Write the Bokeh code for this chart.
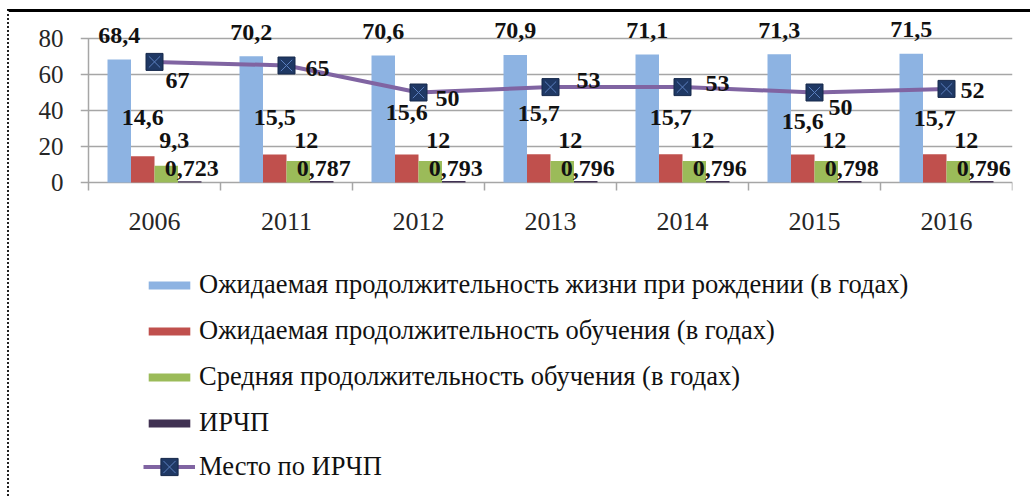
from bokeh.plotting import figure
from bokeh.layouts import column
from bokeh.models import Range1d, FixedTicker, Legend, LegendItem
from bokeh.core.properties import value
from bokeh.embed import file_html
from bokeh.resources import INLINE

# --- data -------------------------------------------------------------
years = ["2006", "2011", "2012", "2013", "2014", "2015", "2016"]
life_expectancy = [68.4, 70.2, 70.6, 70.9, 71.1, 71.3, 71.5]
expected_schooling = [14.6, 15.5, 15.6, 15.7, 15.7, 15.6, 15.7]
mean_schooling = [9.3, 12, 12, 12, 12, 12, 12]
hdi = [0.723, 0.787, 0.793, 0.796, 0.796, 0.798, 0.796]
hdi_rank = [67, 65, 50, 53, 53, 50, 52]

series_names = [
    "Ожидаемая продолжительность жизни при рождении (в годах)",
    "Ожидаемая продолжительность обучения (в годах)",
    "Средняя продолжительность обучения (в годах)",
    "ИРЧП",
    "Место по ИРЧП",
]
y_ticks = [0, 20, 40, 60, 80]

# --- styling ----------------------------------------------------------
FONT = "Liberation Serif"
COLORS = ["#8DB3E2", "#C0504D", "#9BBB59", "#403152"]
LINE_COLOR = "#8064A2"
MARKER_FILL = "#1F3864"
MARKER_EDGE = "#16284A"
CROSS = "#5B7FBF"
GRID = "#A6A6A6"
BAR_W = 0.178
BAR_SHIFT = [-1.5, -0.5, 0.5, 1.5]

# label placement tweaks (pixels)
red_label_dy = [0, 0, -5, -4, 0, 4, 1]
rank_label_dx = [23, 31, 29, 38, 35, 26, 26]
rank_label_dy = [19, 3, 6, -7, -4, 15, 2]


def fmt(v):
    return ("%g" % v).replace(".", ",")


n = len(years)
centers = [i + 0.5 for i in range(n)]
bar_series = [life_expectancy, expected_schooling, mean_schooling, hdi]

# ---------------------------------------------------------------- chart
p = figure(
    width=1021, height=250,
    x_range=Range1d(-8 / 132, 7), y_range=Range1d(-5, 90),
    output_backend="svg", toolbar_location=None,
    min_border_left=71, min_border_right=18,
    min_border_top=8, min_border_bottom=71,
    background_fill_color="white", border_fill_color="white",
)
p.outline_line_color = None

p.xgrid.grid_line_color = None
p.ygrid.ticker = FixedTicker(ticks=y_ticks)
p.ygrid.grid_line_color = GRID
p.ygrid.grid_line_width = 1.5

p.yaxis.ticker = FixedTicker(ticks=y_ticks, minor_ticks=[])
p.yaxis.axis_line_color = None
p.yaxis.major_tick_line_color = None
p.yaxis.major_tick_out = 0
p.yaxis.major_tick_in = 0
p.yaxis.major_label_standoff = 17
p.yaxis.major_label_text_font = FONT
p.yaxis.major_label_text_font_size = "25px"
p.yaxis.major_label_text_color = "#262626"

p.xaxis.ticker = FixedTicker(ticks=centers, minor_ticks=[])
p.xaxis.major_label_overrides = {c: y for c, y in zip(centers, years)}
p.xaxis.axis_line_color = None
p.xaxis.major_tick_line_color = None
p.xaxis.major_tick_out = 0
p.xaxis.major_tick_in = 0
p.xaxis.major_label_standoff = 21
p.xaxis.major_label_text_font = FONT
p.xaxis.major_label_text_font_size = "26px"
p.xaxis.major_label_text_color = "#262626"

# value axis line and category separators
p.segment(x0=[0], y0=[0], x1=[0], y1=[y_ticks[-1]], line_color=GRID, line_width=1.5)
p.segment(x0=list(range(n + 1)), y0=[0] * (n + 1), x1=list(range(n + 1)),
          y1=[-4.4] * (n + 1), line_color=GRID, line_width=1.5)

# bars
for k, vals in enumerate(bar_series):
    xs = [c + BAR_SHIFT[k] * BAR_W for c in centers]
    p.vbar(x=xs, top=vals, bottom=0, width=BAR_W,
           fill_color=COLORS[k], line_color=None)

# rank line with markers
p.line(centers, hdi_rank, line_color=LINE_COLOR, line_width=4)
p.scatter(centers, hdi_rank, marker="square", size=17,
          fill_color=MARKER_FILL, line_color=MARKER_EDGE, line_width=1)
p.scatter(centers, hdi_rank, marker="x", size=16, line_color=CROSS, line_width=1)

# data labels
label_font = dict(text_font=value(FONT), text_font_style="bold",
                  text_font_size="24px", text_color="#111111",
                  text_align="center", text_baseline="middle")

xs0 = [c + BAR_SHIFT[0] * BAR_W for c in centers]
p.text(x=xs0, y=life_expectancy, text=[fmt(v) for v in life_expectancy],
       y_offset=-24, **label_font)

xs1 = [c + BAR_SHIFT[1] * BAR_W for c in centers]
p.text(x=xs1, y=[36] * n, text=[fmt(v) for v in expected_schooling],
       y_offset=red_label_dy, **label_font)

xs2 = [c + BAR_SHIFT[2] * BAR_W for c in centers]
p.text(x=xs2, y=[23.3] * n, text=[fmt(v) for v in mean_schooling],
       x_offset=8, **label_font)

xs3 = [c + BAR_SHIFT[3] * BAR_W for c in centers]
p.text(x=xs3, y=hdi, text=[fmt(v) for v in hdi],
       x_offset=2, y_offset=-13, **label_font)

p.text(x=centers, y=hdi_rank, text=[str(v) for v in hdi_rank],
       x_offset=rank_label_dx, y_offset=rank_label_dy, **label_font)

# ---------------------------------------------------------------- legend
# A separate panel under the chart carries the key; its series sit outside
# the visible window so only the legend swatches show.
lg = figure(
    width=1021, height=234, x_range=Range1d(100, 101), y_range=Range1d(100, 101),
    x_axis_type=None, y_axis_type=None,
    output_backend="svg", toolbar_location=None,
    min_border=0, background_fill_color="white", border_fill_color="white",
)
lg.outline_line_color = None
lg.grid.visible = False

keys = []
for k, vals in enumerate(bar_series):
    keys.append(lg.vbar(x=centers, top=vals, width=BAR_W,
                        fill_color=COLORS[k], line_color=None))
key_line = lg.line(centers, hdi_rank, line_color=LINE_COLOR, line_width=4)
key_sq = lg.scatter(centers, hdi_rank, marker="square", size=17,
                    fill_color=MARKER_FILL, line_color=MARKER_EDGE, line_width=1)
key_x = lg.scatter(centers, hdi_rank, marker="x", size=16,
                   line_color=CROSS, line_width=1)

legend_style = dict(
    orientation="vertical", glyph_width=52, label_standoff=4,
    label_text_font=FONT, label_text_font_size="26.5px", label_text_color="#111111",
    padding=0, margin=0, border_line_color=None, background_fill_alpha=0,
)
bar_key = Legend(
    items=[LegendItem(label=series_names[k], renderers=[keys[k]]) for k in range(4)],
    location=(63, 58), glyph_height=10, label_height=30, spacing=15, **legend_style,
)
rank_key = Legend(
    items=[LegendItem(label=series_names[4], renderers=[key_line, key_sq, key_x])],
    location=(63, 8), glyph_height=43, label_height=30, spacing=0, **legend_style,
)
lg.add_layout(bar_key, "center")
lg.add_layout(rank_key, "center")

page = column(p, lg, spacing=0)
page.styles = {
    "margin-left": "7px", "margin-top": "9px",
    "border-top": "3px solid #000", "border-left": "2px dotted #222",
}

html = file_html(page, INLINE)
open("out.html", "w").write(html)
